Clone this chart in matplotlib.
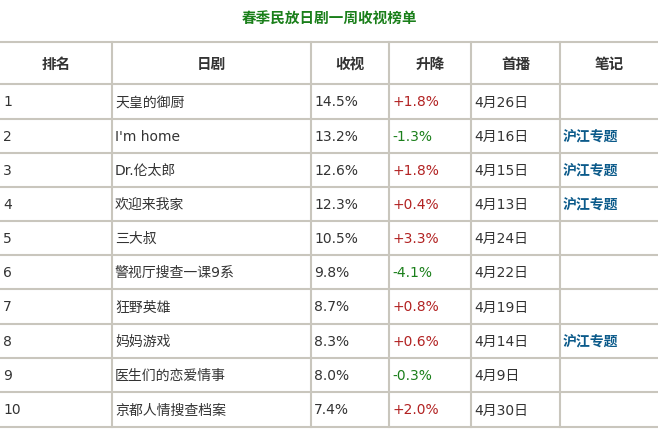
import matplotlib
matplotlib.use("Agg")
import matplotlib.pyplot as plt

plt.rcParams["font.family"] = ["DejaVu Sans", "Noto Sans CJK SC"]

title = "春季民放日剧一周收视榜单"
headers = ["排名", "日剧", "收视", "升降", "首播", "笔记"]
rank = ["1", "2", "3", "4", "5", "6", "7", "8", "9", "10"]
drama = ["天皇的御厨", "I'm home", "Dr.伦太郎", "欢迎来我家", "三大叔",
         "警视厅搜查一课9系", "狂野英雄", "妈妈游戏", "医生们的恋爱情事", "京都人情搜查档案"]
rating = ["14.5%", "13.2%", "12.6%", "12.3%", "10.5%", "9.8%", "8.7%", "8.3%", "8.0%", "7.4%"]
change = ["+1.8%", "-1.3%", "+1.8%", "+0.4%", "+3.3%", "-4.1%", "+0.8%", "+0.6%", "-0.3%", "+2.0%"]
premiere = ["4月26日", "4月16日", "4月15日", "4月13日", "4月24日",
            "4月22日", "4月19日", "4月14日", "4月9日", "4月30日"]
note = ["", "沪江专题", "沪江专题", "沪江专题", "", "", "", "沪江专题", "", ""]

col_x = [0, 112, 311, 389, 471, 560, 658]
row_y = [43, 85, 120, 154, 188, 222, 256, 290, 325, 359, 393, 428]

fig = plt.figure(figsize=(6.58, 4.31), dpi=100)
ax = fig.add_axes([0, 0, 1, 1])
ax.set_xlim(0, 658); ax.set_ylim(431, 0); ax.axis("off")

ax.text(329, 19, title, color="#1a7f1a", fontsize=10.5, fontweight="bold",
        ha="center", va="center", family="Noto Sans CJK SC")

line_c = "#c9c6bd"
for y in row_y:
    ax.plot([0, 658], [y, y], color=line_c, lw=1.5)
for x in col_x[1:-1]:
    ax.plot([x, x], [row_y[0], row_y[-1]], color=line_c, lw=1.5)

hy = (row_y[0] + row_y[1]) / 2
for i, h in enumerate(headers):
    ax.text((col_x[i] + col_x[i + 1]) / 2, hy, h, fontsize=10.5, fontweight="bold",
            color="#333333", ha="center", va="center", family="Noto Sans CJK SC")

for r in range(len(rank)):
    y = (row_y[r + 1] + row_y[r + 2]) / 2
    cells = [rank[r], drama[r], rating[r], change[r], premiere[r], note[r]]
    for c, v in enumerate(cells):
        color, weight = "#333333", "normal"
        if c == 3:
            color = "#b22222" if v.startswith("+") else "#1a7f1a"
        if c == 5:
            color, weight = "#0b5a8a", "bold"
        ax.text(col_x[c] + 3, y, v, fontsize=10, color=color, fontweight=weight,
                ha="left", va="center")

fig.savefig("out.png", dpi=100, facecolor="white")
